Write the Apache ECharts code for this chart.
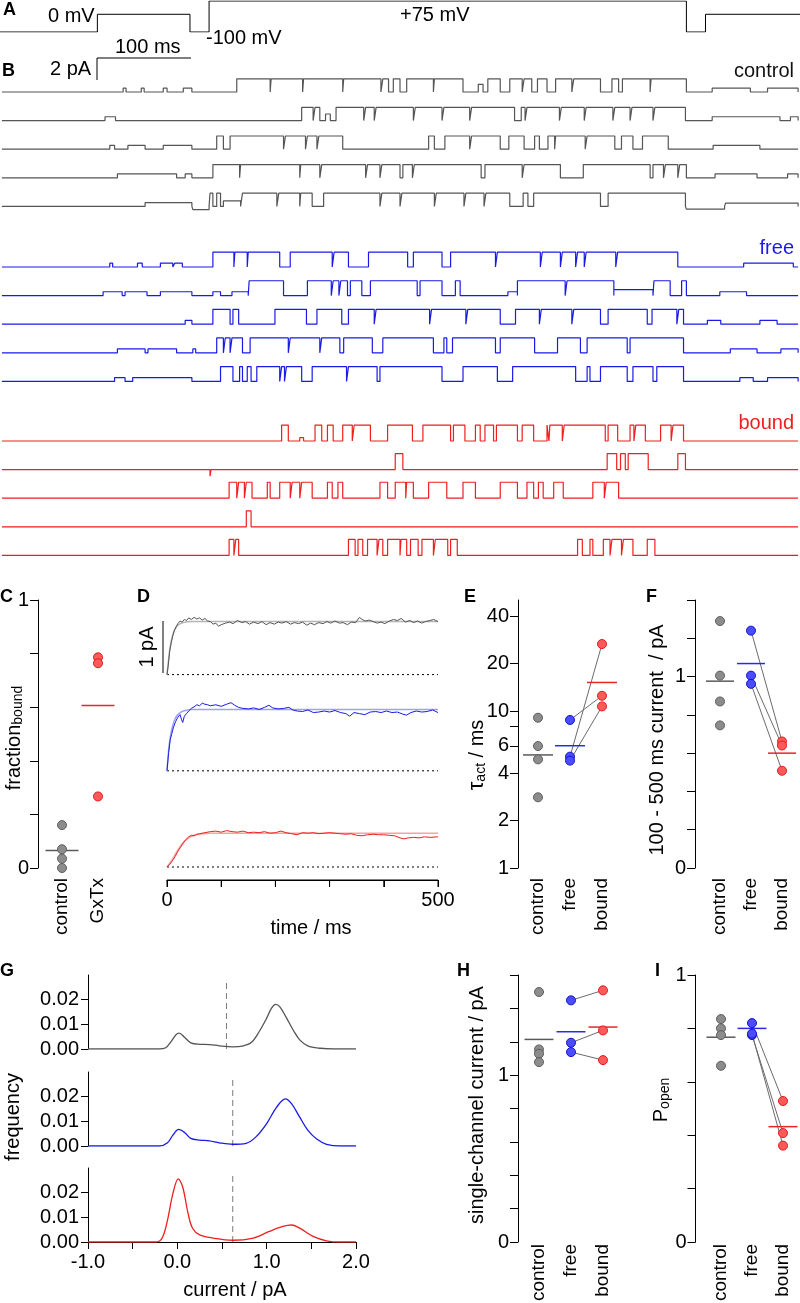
<!DOCTYPE html>
<html>
<head>
<meta charset="utf-8">
<script src="https://cdn.jsdelivr.net/npm/echarts@6/dist/echarts.min.js"></script>
<style>
  html, body { margin: 0; padding: 0; background: #fff; }
  #chart { width: 800px; height: 1303px; }
</style>
</head>
<body>
<div id="chart"></div>
<script>
// ---------- A: voltage protocol (time ms, mV) ----------
const protocolSteps = [[-219, -100], [-117, 0], [-20, -100], [0, 75], [500, -100], [520, 0], [619, 0]]

// ---------- B: single-channel records, openings [t0, t1(, amplitude pA)] ----------
const tracesControl = [
  [[-90, -87, 0.35], [-71, -68, 0.35], [-48, -44, 0.35], [-27, -18, 0.35],
    [29, 64], [65, 98], [99, 140], [141, 180], [182, 188], [193, 200], [207, 235], [236, 266], [282, 287, 0.7],
    [292, 305], [315, 328], [330, 338], [344, 354], [363, 380], [382, 410], [422, 429], [433, 462], [463, 500],
    [527, 567, 0.35], [585, 617, 0.35]],
  [[-109, -98, 0.35],
    [97, 109], [111, 116], [122, 127, 0.6], [133, 162], [164, 173], [175, 214], [216, 244], [246, 273], [275, 320],
    [327, 331], [333, 367], [369, 393], [395, 423], [425, 441], [443, 465], [467, 499],
    [527, 598, 0.35], [609, 617, 0.35]],
  [[-104, -99, 0.35], [-85, -67, 0.35], [-48, -18, 0.35],
    [8, 15], [22, 78], [80, 101], [103, 113], [115, 140], [230, 236], [247, 273], [275, 305], [314, 330],
    [341, 346], [355, 362], [363, 394], [396, 425], [432, 444], [454, 481],
    [528, 577, 0.35]],
  [[-96, -34, 0.35], [-25, -18, 0.35],
    [4, 32], [33, 95], [96, 116], [118, 164], [166, 179], [181, 200], [203, 213], [215, 285], [289, 328],
    [330, 368], [392, 462], [465, 476], [478, 491], [493, 500],
    [530, 574, 0.35], [606, 617, 0.35]],
  [[-67, -18, 0.35], [-17, 0, -0.3],
    [1, 4], [8, 12], [15, 33, 0.5], [35, 71], [73, 95], [96, 108], [120, 179], [181, 200], [202, 236],
    [238, 267], [269, 288], [290, 315], [329, 334], [340, 410], [418, 499],
    [500, 540, -0.25], [541, 617, 0.3]]
]
const tracesFree = [
  [[-104, -101, 0.35], [-75, -70, 0.35], [-51, -38, 0.35], [-36, -28, 0.35],
    [4, 26], [27, 40], [41, 74], [85, 129], [131, 146], [167, 208], [214, 244], [253, 300], [302, 347],
    [349, 368], [370, 384], [386, 393], [395, 426], [428, 491],
    [560, 612, 0.35]],
  [[-111, -91, 0.35], [-88, -65, 0.35], [-51, -18, 0.35], [4, 12, 0.35], [24, 41, 0.35],
    [42, 78], [103, 128], [130, 136], [138, 145], [148, 160], [169, 218], [221, 244], [258, 263],
    [313, 323, 0.35], [323, 373], [375, 424], [424, 465, 0.55], [466, 483], [495, 500],
    [535, 563, 0.35]],
  [[-25, -18, 0.35],
    [4, 22], [25, 31], [69, 102], [113, 139], [146, 173], [175, 231], [233, 269], [271, 305], [321, 346],
    [348, 380], [382, 410], [418, 459], [464, 490], [492, 497],
    [522, 536, 0.35], [577, 595, 0.35]],
  [[-96, -67, 0.35], [-64, -34, 0.35], [-17, -14, 0.35],
    [8, 15], [17, 22], [24, 35], [43, 83], [85, 116], [118, 137], [141, 171], [182, 235], [246, 249],
    [255, 300], [305, 341], [365, 389], [396, 438], [441, 497],
    [546, 574, 0.35], [599, 617, 0.35]],
  [[-99, -88, 0.35], [-80, -18, 0.35],
    [12, 25], [32, 35], [40, 44], [50, 74], [76, 79], [81, 97], [108, 144], [146, 176], [179, 244],
    [266, 302], [318, 384], [396, 399], [410, 438], [444, 465], [469, 497],
    [556, 570, 0.35], [585, 617, 0.35]]
]
const tracesBound = [
  [[76, 83], [95, 99, 0.3], [111, 118], [124, 130], [140, 150], [152, 169], [187, 213], [224, 253], [256, 268],
    [279, 284], [289, 298], [301, 323], [328, 340], [354, 356], [357, 370], [372, 415], [418, 428], [441, 445],
    [447, 457], [473, 484], [486, 497]],
  [[1, 2, -0.6], [195, 203], [417, 427], [431, 436], [439, 460], [491, 499]],
  [[21, 29], [31, 37], [39, 45], [61, 64], [74, 85], [87, 95], [97, 108], [124, 129], [135, 140], [179, 187],
    [195, 206], [207, 214], [230, 249], [266, 279], [305, 323], [333, 340], [345, 350], [361, 371],
    [402, 414], [416, 429]],
  [[39, 44]],
  [[21, 26], [28, 31], [146, 153], [156, 161], [166, 176], [178, 182], [187, 200], [201, 207], [211, 219],
    [223, 235], [237, 250], [253, 260], [386, 391], [399, 402], [413, 420], [422, 432], [434, 444], [459, 467]]
]
const openAmp = [1.2, 1.35, 1.45]

// ---------- C: fraction bound ----------
const catC = ['control', 'GxTx']
const fracControl = [0.16, 0.07, 0.035, 0.0]
const fracGxTx = [0.786, 0.764, 0.267]
const fracMean = [0.065, 0.606]

// ---------- D: mean currents [t ms, pA] ----------
const timeTicks = [0, 100, 200, 300, 400, 500]
const avgControl = [[0, 0], [2, 0.15], [5, 0.45], [8, 0.62], [11, 0.76], [14, 0.86], [17, 0.92], [20, 0.98], [24, 1.03],
  [28, 1.01], [32, 1.06], [36, 1.04], [40, 1.09], [45, 1.06], [50, 1.1], [55, 1.07], [60, 1.09], [65, 1.05], [70, 1.08],
  [75, 1.03], [80, 1.02], [85, 0.97], [90, 0.99], [95, 0.93], [100, 0.96], [108, 0.99], [115, 1.01], [122, 0.98],
  [130, 1.04], [138, 1.0], [145, 1.02], [152, 0.97], [160, 1.01], [168, 0.98], [175, 1.02], [183, 0.96], [190, 1.0],
  [198, 0.97], [205, 1.01], [212, 0.99], [220, 1.02], [228, 0.97], [235, 1.0], [243, 0.98], [250, 1.01], [258, 0.95],
  [265, 0.99], [272, 0.96], [280, 1.0], [288, 0.98], [295, 1.02], [302, 0.99], [310, 1.03], [318, 0.99], [325, 1.0],
  [333, 0.96], [340, 1.01], [348, 1.0], [355, 1.1], [360, 1.06], [366, 1.03], [373, 1.05], [380, 1.02], [388, 0.99],
  [395, 1.01], [402, 0.98], [410, 1.03], [418, 1.06], [425, 1.04], [432, 1.08], [440, 1.01], [448, 1.04], [455, 1.0],
  [462, 1.03], [470, 0.99], [477, 1.02], [485, 1.04], [492, 1.06], [500, 1.02]]
const avgFree = [[0, 0], [3, 0.35], [6, 0.6], [9, 0.72], [12, 0.84], [16, 0.95], [20, 1.03], [24, 1.08], [27, 0.98],
  [29, 0.93], [32, 1.05], [36, 1.1], [40, 1.15], [45, 1.2], [50, 1.23], [55, 1.27], [60, 1.25], [65, 1.3], [70, 1.28],
  [75, 1.27], [80, 1.25], [90, 1.27], [100, 1.24], [110, 1.28], [118, 1.31], [125, 1.26], [132, 1.22], [140, 1.2],
  [150, 1.19], [160, 1.21], [170, 1.18], [180, 1.22], [188, 1.26], [195, 1.21], [205, 1.19], [215, 1.2], [225, 1.22],
  [232, 1.17], [240, 1.15], [250, 1.14], [260, 1.17], [270, 1.12], [280, 1.13], [290, 1.15], [300, 1.13], [310, 1.16],
  [320, 1.12], [330, 1.1], [337, 1.05], [345, 1.12], [355, 1.1], [365, 1.08], [375, 1.13], [385, 1.14], [395, 1.12],
  [405, 1.15], [415, 1.12], [425, 1.13], [435, 1.09], [442, 1.07], [450, 1.12], [460, 1.15], [470, 1.13], [480, 1.14],
  [490, 1.17], [500, 1.12]]
const avgBound = [[0, 0], [5, 0.05], [10, 0.12], [15, 0.2], [20, 0.3], [25, 0.38], [30, 0.46], [35, 0.53], [40, 0.58],
  [45, 0.61], [50, 0.6], [55, 0.63], [60, 0.64], [70, 0.66], [80, 0.68], [90, 0.69], [100, 0.67], [110, 0.7], [120, 0.68],
  [130, 0.67], [140, 0.69], [150, 0.66], [160, 0.67], [170, 0.66], [180, 0.68], [190, 0.65], [200, 0.66], [210, 0.69],
  [220, 0.66], [230, 0.64], [240, 0.62], [250, 0.66], [260, 0.65], [270, 0.66], [280, 0.64], [290, 0.65], [300, 0.66],
  [310, 0.65], [320, 0.64], [330, 0.63], [340, 0.64], [350, 0.61], [360, 0.6], [370, 0.62], [380, 0.63], [390, 0.62],
  [400, 0.62], [410, 0.61], [420, 0.6], [430, 0.56], [437, 0.54], [445, 0.56], [455, 0.57], [465, 0.56], [475, 0.58],
  [485, 0.57], [500, 0.58]]
const fitControl = [[0, 0], [3, 0.3], [6, 0.55], [10, 0.74], [15, 0.88], [20, 0.95], [30, 1.0], [45, 1.02], [500, 1.02]]
const fitFree = [[0, 0], [3, 0.4], [6, 0.65], [10, 0.85], [15, 1.0], [20, 1.08], [30, 1.15], [45, 1.18], [500, 1.18]]
const fitBound = [[0, 0], [10, 0.15], [20, 0.33], [30, 0.47], [40, 0.56], [50, 0.61], [60, 0.63], [80, 0.65], [500, 0.65]]

// ---------- E: tau_act (ms) ----------
const cat3 = ['control', 'free', 'bound']
const tauControl = [9.06, 5.98, 4.92, 2.82]
const tauFree = [8.77, 5.12, 4.83]
const tauBound = [12.5, 26.7, 10.7]
const tauMean = [5.25, 6.01, 15.2]
const tauTicks = [1, 2, 4, 6, 8, 10, 20, 40]
const tauLabels = [1, 2, 4, 6, 10, 20, 40]

// ---------- F: 100-500 ms current (pA) ----------
const curControl = [1.29, 1.005, 0.87, 0.745]
const curFree = [1.24, 1.005, 0.962]
const curBound = [0.661, 0.64, 0.508]
const curMean = [0.976, 1.068, 0.6]

// ---------- G: amplitude histograms [pA, frequency] ----------
const histControl = [[-1.0, 0], [-0.2, 0], [-0.13, 0.0005], [-0.07, 0.003], [-0.015, 0.0058], [0.02, 0.0064],
  [0.08, 0.0048], [0.15, 0.0025], [0.25, 0.0019], [0.36, 0.0018], [0.47, 0.0013], [0.62, 0.0009], [0.73, 0.0012],
  [0.83, 0.0027], [0.92, 0.0073], [1.0, 0.0125], [1.05, 0.0163], [1.1, 0.0181], [1.15, 0.017], [1.22, 0.0127],
  [1.3, 0.0075], [1.37, 0.0037], [1.46, 0.0013], [1.6, 0.0003], [1.75, 0], [2.0, 0]]
const histFree = [[-1.0, 0], [-0.2, 0], [-0.11, 0.0013], [-0.05, 0.0044], [0.015, 0.0067], [0.08, 0.0055],
  [0.15, 0.0031], [0.25, 0.0024], [0.36, 0.0021], [0.47, 0.0013], [0.62, 0.0007], [0.77, 0.0011], [0.88, 0.0037],
  [1.0, 0.0091], [1.11, 0.0157], [1.21, 0.0191], [1.28, 0.0171], [1.37, 0.0117], [1.46, 0.0064], [1.56, 0.0028],
  [1.67, 0.0007], [1.82, 0], [2.0, 0]]
const histBound = [[-1.0, 0], [-0.24, 0], [-0.17, 0.0016], [-0.11, 0.0089], [-0.05, 0.0196], [0.01, 0.0256],
  [0.06, 0.0223], [0.12, 0.0116], [0.17, 0.0056], [0.25, 0.0029], [0.4, 0.0016], [0.62, 0.0007], [0.85, 0.0016],
  [1.03, 0.0043], [1.18, 0.0063], [1.28, 0.0069], [1.37, 0.0056], [1.52, 0.0023], [1.67, 0.0005], [1.82, 0], [2.0, 0]]
const histThreshold = [0.55, 0.62, 0.62]

// ---------- H: single-channel current (pA) ----------
const iControl = [1.498, 1.154, 1.128, 1.078]
const iFree = [1.448, 1.194, 1.138]
const iBound = [1.508, 1.268, 1.09]
const iMean = [1.214, 1.26, 1.288]

// ---------- I: open probability ----------
const pControl = [0.835, 0.8, 0.775, 0.66]
const pFree = [0.82, 0.775, 0.78]
const pBound = [0.528, 0.408, 0.361]
const pMean = [0.767, 0.8, 0.432]

// ---------- styling ----------
const FONT = '"Liberation Sans", Arial, Helvetica, sans-serif'
const lineCol = ['#555555', '#1a1ae6', '#f01e1e']
const meanCol = ['#5a5a5a', '#2a2ae6', '#e8262a']
const dotFill = ['#8c8c8c', '#4b4bff', '#ff5a5a']
const dotEdge = ['#5e5e5e', '#1414c8', '#e01a1a']
const tStart = -217
const tEnd = 617
const traceGap = 2.6
const dGap = 1.85

const grids = []
const xAxes = []
const yAxes = []
const series = []

function addGrid(g, xa, ya) {
  const i = grids.length
  grids.push(Object.assign({ containLabel: false, outerBoundsMode: 'none' }, g))
  xAxes.push(Object.assign({ gridIndex: i }, xa))
  yAxes.push(Object.assign({ gridIndex: i }, ya))
  return i
}

function hiddenAxis(min, max) {
  return { type: 'value', min: min, max: max, show: false, axisLine: { onZero: false } }
}

function valueAxis(min, max, interval, offset, fmt, extra) {
  return Object.assign({
    type: 'value', min: min, max: max, interval: interval, offset: offset,
    splitLine: { show: false },
    axisLine: { show: true, onZero: false, lineStyle: { color: '#000', width: 1 } },
    axisTick: { show: true, length: 7, lineStyle: { color: '#000' } },
    axisLabel: { fontSize: 20, fontFamily: FONT, color: '#000', margin: 9, formatter: fmt }
  }, extra || {})
}

function catAxis(names, margin) {
  return {
    type: 'category', data: names,
    axisLine: { show: false, onZero: false }, axisTick: { show: false },
    axisLabel: { rotate: 90, margin: margin, fontSize: 19, fontFamily: FONT, color: '#000', interval: 0 }
  }
}

const zeroOne = v => (Math.abs(v) < 1e-9 ? '0' : (Math.abs(v - 1) < 1e-9 ? '1' : ''))

function stepPoints(intervals, amp, offset) {
  const ev = intervals.map(iv => [iv[0], iv[1], iv.length > 2 ? iv[2] : amp]).sort((a, b) => a[0] - b[0])
  const pts = [[tStart, offset]]
  ev.forEach(e => {
    pts.push([e[0], offset], [e[0], offset + e[2]], [e[1], offset + e[2]], [e[1], offset])
  })
  pts.push([tEnd, offset])
  return pts
}

function lineSeries(gi, data, color, width, extra) {
  return Object.assign({
    type: 'line', xAxisIndex: gi, yAxisIndex: gi, data: data, showSymbol: false, silent: true,
    lineStyle: { color: color, width: width }
  }, extra || {})
}

function dots(gi, k, values, tf, colorIdx) {
  const c = colorIdx === undefined ? k : colorIdx
  return {
    type: 'scatter', xAxisIndex: gi, yAxisIndex: gi, z: 5, silent: true,
    symbol: 'circle', symbolSize: 9,
    itemStyle: { color: dotFill[c], borderColor: dotEdge[c], borderWidth: 1, opacity: 1 },
    data: values.map(v => [k, tf ? tf(v) : v])
  }
}

function meanBars(gi, means, colIdx, hw, tf) {
  return {
    type: 'custom', xAxisIndex: gi, yAxisIndex: gi, z: 3, silent: true,
    data: means.map((m, k) => [k, tf ? tf(m) : m, colIdx[k]]),
    renderItem: (params, api) => {
      const p = api.coord([api.value(0), api.value(1)])
      return {
        type: 'line',
        shape: { x1: p[0] - hw, y1: p[1], x2: p[0] + hw, y2: p[1] },
        style: { stroke: meanCol[api.value(2)], lineWidth: 1.5 }
      }
    }
  }
}

function pairLines(gi, a, b, tf) {
  return {
    type: 'custom', xAxisIndex: gi, yAxisIndex: gi, z: 2, silent: true,
    data: a.map((v, j) => [tf ? tf(v) : v, tf ? tf(b[j]) : b[j]]),
    renderItem: (params, api) => {
      const p0 = api.coord([1, api.value(0)])
      const p1 = api.coord([2, api.value(1)])
      return {
        type: 'line',
        shape: { x1: p0[0], y1: p0[1], x2: p1[0], y2: p1[1] },
        style: { stroke: '#6b6b6b', lineWidth: 1 }
      }
    }
  }
}

const tick8 = { axisTick: { show: true, length: 8, lineStyle: { color: '#000' } } }

// A
const gA = addGrid({ left: 0, top: 1, width: 800, height: 31 }, hiddenAxis(-219, 619), hiddenAxis(-100, 75))
series.push(lineSeries(gA, protocolSteps, '#000', 1, { step: 'end' }))

// B
const groupTops = [70, 245, 419]
const allTraces = [tracesControl, tracesFree, tracesBound]
allTraces.forEach((group, g) => {
  const gi = addGrid({ left: 0, top: groupTops[g], width: 800, height: 143 },
    hiddenAxis(-219, 619), hiddenAxis(-0.6 - 4 * traceGap, 2.0))
  group.forEach((iv, i) => {
    series.push(lineSeries(gi, stepPoints(iv, openAmp[g], -i * traceGap), lineCol[g], 1.2))
  })
})

// C
const gC = addGrid({ left: 44, top: 600, width: 72, height: 268 }, catAxis(catC, 10),
  valueAxis(0, 1, 0.2, 6, zeroOne, tick8))
series.push(dots(gC, 0, fracControl))
series.push(dots(gC, 1, fracGxTx, null, 2))
series.push(meanBars(gC, fracMean, [0, 2], 16.5))

// D : traces in one grid, time axis on a thin grid directly below
const fmtD = v => (v === 0 || v === 500 ? String(v) : '')
const gD = addGrid({ left: 167, top: 607, width: 271, height: 273 },
  hiddenAxis(0, 500), hiddenAxis(-0.25, 5.0))
const gDaxis = addGrid({ left: 167, top: 879, width: 271, height: 1 },
  valueAxis(0, 500, 100, 0, fmtD, {
    position: 'bottom',
    axisLabel: { fontSize: 20, fontFamily: FONT, color: '#000', margin: 10, formatter: fmtD }
  }),
  valueAxis(0, 1, 1, 0, null, { axisLine: { show: false, onZero: false }, axisTick: { show: false }, axisLabel: { show: false } }))
// axis line + outward ticks of the time axis, placed through the time scale
series.push({
  type: 'custom', xAxisIndex: gDaxis, yAxisIndex: gDaxis, silent: true, clip: false, z: 4,
  data: timeTicks.map((t, j) => [t, j]),
  renderItem: (params, api) => {
    const p = api.coord([api.value(0), 0])
    const children = [{ type: 'line', shape: { x1: p[0], y1: p[1], x2: p[0], y2: p[1] + 7 }, style: { stroke: '#000', lineWidth: 1 } }]
    if (api.value(1) === 0) {
      const q = api.coord([timeTicks[timeTicks.length - 1], 0])
      children.push({ type: 'line', shape: { x1: p[0], y1: p[1], x2: q[0], y2: q[1] }, style: { stroke: '#000', lineWidth: 1 } })
    }
    return { type: 'group', children: children }
  }
})
const dTraces = [avgControl, avgFree, avgBound]
const dFits = [fitControl, fitFree, fitBound]
const dFitCol = ['#b4b4b4', '#9ea2f0', '#f5a3a3']
dTraces.forEach((tr, k) => {
  const off = (2 - k) * dGap
  series.push(lineSeries(gD, [[0, off], [500, off]], '#000', 1, { lineStyle: { color: '#000', width: 1, type: [2, 3] } }))
  series.push(lineSeries(gD, dFits[k].map(p => [p[0], p[1] + off]), dFitCol[k], 1.5, { smooth: 0.3 }))
  series.push(lineSeries(gD, tr.map(p => [p[0], p[1] + off]), lineCol[k], 1))
})

// E
const lg = v => Math.log10(v)
const gE = addGrid({ left: 522, top: 600, width: 96, height: 268 }, catAxis(cat3, 10),
  valueAxis(0, Math.log10(40) + 0.105, null, 4, null, {
    interval: undefined,
    axisTick: { show: true, length: 8, lineStyle: { color: '#000' }, customValues: tauTicks.map(lg) },
    axisLabel: {
      fontSize: 20, fontFamily: FONT, color: '#000', margin: 9, customValues: tauLabels.map(lg),
      formatter: v => String(Math.round(Math.pow(10, v)))
    }
  }))
series.push(pairLines(gE, tauFree, tauBound, lg))
series.push(dots(gE, 0, tauControl, lg), dots(gE, 1, tauFree, lg), dots(gE, 2, tauBound, lg))
series.push(meanBars(gE, tauMean, [0, 1, 2], 15, lg))

// F
const gF = addGrid({ left: 704.5, top: 600, width: 93, height: 268 }, catAxis(cat3, 10),
  valueAxis(0, 1.4, 0.2, 9.5, zeroOne, tick8))
series.push(pairLines(gF, curFree, curBound))
series.push(dots(gF, 0, curControl), dots(gF, 1, curFree), dots(gF, 2, curBound))
series.push(meanBars(gF, curMean, [0, 1, 2], 14))

// G
const gTops = [975, 1072, 1168]
const hists = [histControl, histFree, histBound]
const fmtG = v => (Number.isInteger(v) ? v.toFixed(1) : '')
hists.forEach((h, k) => {
  const xa = k === 2
    ? valueAxis(-1, 2, 0.5, 0, fmtG,
      { axisLabel: { fontSize: 20, fontFamily: FONT, color: '#000', margin: 10, formatter: fmtG } })
    : hiddenAxis(-1, 2)
  const ya = valueAxis(0, 0.03, null, 0, null, {
    interval: undefined,
    axisTick: { show: true, length: 7, lineStyle: { color: '#000' }, customValues: [0, 0.01, 0.02] },
    axisLabel: { fontSize: 20, fontFamily: FONT, color: '#000', margin: 9, customValues: [0, 0.01, 0.02], formatter: v => v.toFixed(2) }
  })
  const gi = addGrid({ left: 88, top: gTops[k], width: 268, height: 74 }, xa, ya)
  series.push(lineSeries(gi, [[histThreshold[k], 0], [histThreshold[k], 0.027]], '#777', 1,
    { lineStyle: { color: '#7a7a7a', width: 1, type: [6, 4] } }))
  series.push(lineSeries(gi, h, lineCol[k], 1.3, { smooth: 0.35 }))
})

// H
const gH = addGrid({ left: 523, top: 975, width: 96, height: 267 }, catAxis(cat3, 2),
  valueAxis(0, 1.6, 0.2, 5, zeroOne, tick8))
series.push(pairLines(gH, iFree, iBound))
series.push(dots(gH, 0, iControl), dots(gH, 1, iFree), dots(gH, 2, iBound))
series.push(meanBars(gH, iMean, [0, 1, 2], 14.5))

// I
const gI = addGrid({ left: 705.5, top: 975, width: 93, height: 267 }, catAxis(cat3, 2),
  valueAxis(0, 1, 0.2, 10, zeroOne, tick8))
series.push(pairLines(gI, pFree, pBound))
series.push(dots(gI, 0, pControl), dots(gI, 1, pFree), dots(gI, 2, pBound))
series.push(meanBars(gI, pMean, [0, 1, 2], 14.5))

// ---------- text / scale bars ----------
function txt(x, y, s, opt) {
  return {
    type: 'text', x: x, y: y, silent: true, rotation: (opt && opt.rot) || 0,
    style: Object.assign({
      text: s, fill: '#000', fontSize: 20, fontFamily: FONT,
      align: 'left', verticalAlign: 'middle'
    }, (opt && opt.style) || {})
  }
}
const bold = { fontWeight: 'bold', fontSize: 18 }
const rotName = (x, y, s, rich) => txt(x, y, s, { rot: Math.PI / 2, style: { align: 'center', rich: rich } })
const subRich = {
  a: { fontSize: 20, fontFamily: FONT, fill: '#000', lineHeight: 22, verticalAlign: 'middle' },
  b: { fontSize: 14, fontFamily: FONT, fill: '#000', lineHeight: 6, verticalAlign: 'bottom' },
  t: { fontSize: 22, fontFamily: FONT, fill: '#000', lineHeight: 22, verticalAlign: 'middle' }
}

const graphics = [
  txt(3, 10, 'A', { style: bold }),
  txt(48, 16, '0 mV'),
  txt(206, 38, '-100 mV'),
  txt(400, 15, '+75 mV'),
  txt(115, 47, '100 ms'),
  txt(50, 69, '2 pA'),
  { type: 'polyline', silent: true, shape: { points: [[191, 58], [97, 58], [97, 80]] }, style: { stroke: '#000', lineWidth: 1, fill: null } },
  txt(2, 71, 'B', { style: bold }),
  txt(794, 71, 'control', { style: { align: 'right', fill: '#111' } }),
  txt(794, 248, 'free', { style: { align: 'right', fill: '#1a1ae6' } }),
  txt(794, 423, 'bound', { style: { align: 'right', fill: '#f01e1e' } }),
  txt(0, 597, 'C', { style: bold }),
  txt(137, 597, 'D', { style: bold }),
  txt(464, 597, 'E', { style: bold }),
  txt(646, 597, 'F', { style: bold }),
  txt(0, 971, 'G', { style: bold }),
  txt(457, 971, 'H', { style: bold }),
  txt(655, 971, 'I', { style: bold }),
  rotName(14, 738, '{a|fraction}{b|bound}', subRich),
  txt(147, 647, '1 pA', { rot: Math.PI / 2, style: { align: 'center' } }),
  { type: 'line', silent: true, shape: { x1: 163, y1: 621, x2: 163, y2: 673 }, style: { stroke: '#000', lineWidth: 1 } },
  txt(311, 928, 'time / ms', { style: { align: 'center' } }),
  rotName(477, 755, '{t|τ}{b|act}{a| / ms}', subRich),
  rotName(657, 740, '100 - 500 ms current  / pA'),
  rotName(13, 1117, 'frequency'),
  txt(235, 1290, 'current / pA', { style: { align: 'center' } }),
  rotName(477, 1105, 'single-channel current / pA'),
  rotName(661, 1100, '{a|P}{b|open}', subRich)
]

const chart = echarts.init(document.getElementById('chart'), null, { renderer: 'canvas' })
chart.setOption({
  animation: false,
  backgroundColor: '#fff',
  textStyle: { fontFamily: FONT },
  grid: grids,
  xAxis: xAxes,
  yAxis: yAxes,
  series: series,
  graphic: graphics
})
</script>
</body>
</html>
